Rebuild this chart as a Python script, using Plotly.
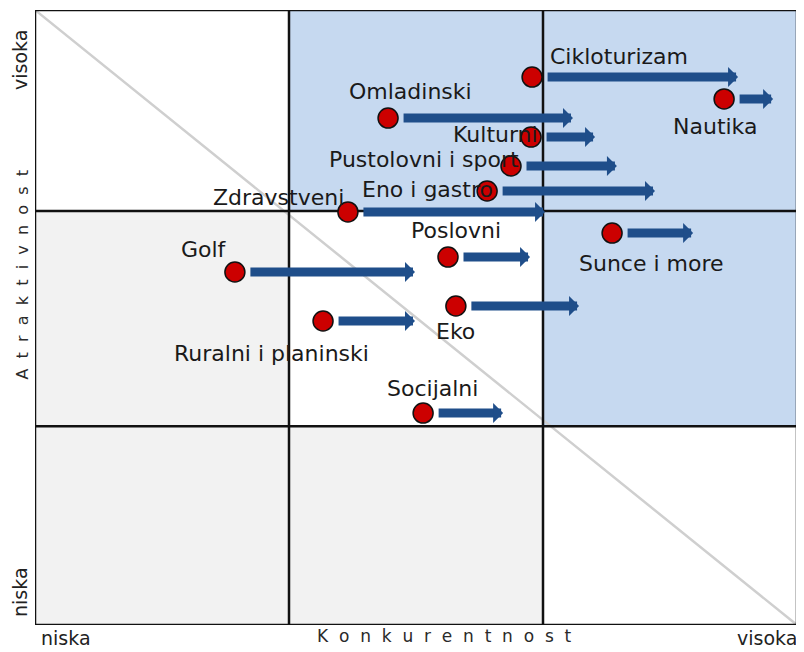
import plotly.graph_objects as go

# ---- data -------------------------------------------------------------
products = ["Cikloturizam", "Nautika", "Omladinski", "Kulturni",
            "Pustolovni i sport", "Eno i gastro", "Zdravstveni", "Poslovni",
            "Golf", "Sunce i more", "Eko", "Ruralni i planinski", "Socijalni"]
# current competitiveness (x), attractiveness (y), future competitiveness (arrow target)
konkurentnost = [1.957, 2.713, 1.390, 1.953, 1.874, 1.780, 1.232, 1.626,
                 0.787, 2.272, 1.657, 1.134, 1.528]
atraktivnost = [2.673, 2.566, 2.473, 2.380, 2.239, 2.117, 2.015, 1.795,
                1.722, 1.912, 1.556, 1.483, 1.034]
konkurentnost_cilj = [2.768, 2.906, 2.118, 2.205, 2.291, 2.441, 2.008, 1.949,
                      1.496, 2.591, 2.142, 1.496, 1.843]

x_edges = [0, 1.0, 2.0, 3.0]
y_edges = [0, 0.97, 2.02, 3.0]
x_tick_text = ["niska", "visoka"]
y_tick_text = ["niska", "visoka"]
x_title = "Konkurentnost"
y_title = "Atraktivnost"

# ---- styles -----------------------------------------------------------
BLUE = "#c6d9f0"
GRAY = "#f2f2f2"
WHITE = "#ffffff"
# cell colours, rows from bottom to top, columns left to right
cell_colors = [[GRAY, GRAY, WHITE],
               [GRAY, WHITE, BLUE],
               [WHITE, BLUE, BLUE]]
ARROW = "#1f4e8a"
LABEL_FONT = dict(family="DejaVu Sans", size=22, color="#1a1a1a")
AXIS_FONT = dict(family="DejaVu Sans", size=19, color="#222222")

# label placement: (xanchor, xshift px, yshift px)
label_place = {
    "Cikloturizam": ("left", 16, 21),
    "Nautika": ("center", -9, -28),
    "Omladinski": ("center", 22, 27),
    "Kulturni": ("right", 9, 3),
    "Pustolovni i sport": ("right", 10, 7),
    "Eno i gastro": ("right", 8, 2),
    "Zdravstveni": ("right", -2, 14),
    "Poslovni": ("center", 8, 27),
    "Golf": ("right", -6, 22),
    "Sunce i more": ("center", 39, -30),
    "Eko": ("center", 0, -25),
    "Ruralni i planinski": ("center", -52, -33),
    "Socijalni": ("center", 9, 25),
}

fig = go.Figure()

shapes = []
for r in range(3):
    for c in range(3):
        shapes.append(dict(type="rect", xref="x", yref="y",
                           x0=x_edges[c], x1=x_edges[c + 1],
                           y0=y_edges[r], y1=y_edges[r + 1],
                           fillcolor=cell_colors[r][c], line=dict(width=0),
                           layer="below"))
# diagonal
shapes.append(dict(type="line", xref="x", yref="y", x0=x_edges[0], y0=y_edges[-1],
                   x1=x_edges[-1], y1=y_edges[0],
                   line=dict(color="#cfcfcf", width=2.5), layer="below"))
# grid lines
for xv in x_edges[1:-1]:
    shapes.append(dict(type="line", xref="x", yref="y", x0=xv, x1=xv,
                       y0=y_edges[0], y1=y_edges[-1],
                       line=dict(color="#111111", width=2.5), layer="below"))
for yv in y_edges[1:-1]:
    shapes.append(dict(type="line", xref="x", yref="y", y0=yv, y1=yv,
                       x0=x_edges[0], x1=x_edges[-1],
                       line=dict(color="#111111", width=2.5), layer="below"))
shapes.append(dict(type="rect", xref="x", yref="y", x0=x_edges[0], x1=x_edges[-1],
                   y0=y_edges[0], y1=y_edges[-1],
                   line=dict(color="#111111", width=2.5), layer="below"))

annotations = []
for name, x0, y0, x1 in zip(products, konkurentnost, atraktivnost, konkurentnost_cilj):
    annotations.append(dict(x=x1, y=y0, ax=x0, ay=y0, xref="x", yref="y",
                            axref="x", ayref="y", text="", showarrow=True,
                            arrowhead=1, arrowwidth=9, arrowsize=0.37,
                            arrowcolor=ARROW, startstandoff=14, standoff=0))
    xa, xs, ys = label_place[name]
    annotations.append(dict(x=x0, y=y0, xref="x", yref="y", text=name,
                            showarrow=False, xanchor=xa, yanchor="middle",
                            xshift=xs, yshift=ys, font=LABEL_FONT))

fig.add_trace(go.Scatter(
    x=konkurentnost, y=atraktivnost, mode="markers",
    marker=dict(size=20, color="#cc0000", line=dict(color="#111111", width=1.5)),
    hovertext=products, hoverinfo="text", showlegend=False))


def spaced(s):
    return " \u00a0".join(list(s))


annotations += [
    dict(text=y_tick_text[1], xref="paper", yref="paper", x=0, y=1, xanchor="right",
         yanchor="top", xshift=-2, yshift=-18, textangle=-90, showarrow=False, font=AXIS_FONT),
    dict(text=y_tick_text[0], xref="paper", yref="paper", x=0, y=0, xanchor="right",
         yanchor="bottom", xshift=-2, yshift=6, textangle=-90, showarrow=False, font=AXIS_FONT),
    dict(text=x_tick_text[0], xref="paper", yref="paper", x=0, y=0, xanchor="left",
         yanchor="top", xshift=4, yshift=0, showarrow=False, font=AXIS_FONT),
    dict(text=x_tick_text[1], xref="paper", yref="paper", x=1, y=0, xanchor="right",
         yanchor="top", xshift=2, yshift=0, showarrow=False, font=AXIS_FONT),
    dict(text=spaced(x_title), xref="paper", yref="paper", x=(444.5 - 35) / 762, y=0,
         xanchor="center", yanchor="top", yshift=1, showarrow=False,
         font=dict(family="DejaVu Sans", size=17, color="#2a2a2a")),
    dict(text=spaced(y_title), xref="paper", yref="paper", x=0, y=(625 - 275) / 615,
         xanchor="right", yanchor="middle", xshift=-2, textangle=-90, showarrow=False,
         font=dict(family="DejaVu Sans", size=16, color="#2a2a2a")),
]

# the page body adds an 8 px offset, so the figure is sized to fit inside it
fig.update_layout(
    width=796, height=644,
    margin=dict(l=27, r=7, t=2, b=27),
    paper_bgcolor="white", plot_bgcolor="white",
    shapes=shapes, annotations=annotations,
    xaxis=dict(range=[x_edges[0], x_edges[-1]], showgrid=False, zeroline=False,
               showticklabels=False, ticks="", fixedrange=True),
    yaxis=dict(range=[y_edges[0], y_edges[-1]], showgrid=False, zeroline=False,
               showticklabels=False, ticks="", fixedrange=True),
    showlegend=False,
)

fig.write_html("out.html")
